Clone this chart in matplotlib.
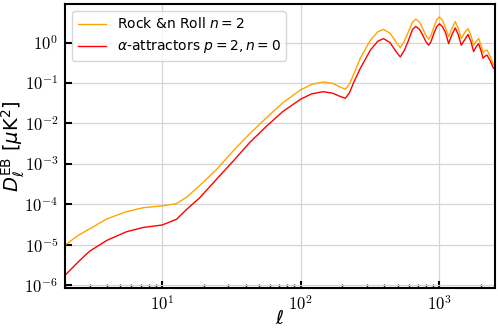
import numpy as np
import matplotlib
matplotlib.use("Agg")
from matplotlib import pyplot as plt
from matplotlib import ticker

# multipole values
ell = [2, 2.5, 3, 4, 5.5, 7.3, 10, 12.7, 15, 18.7, 24.7, 32.5, 42.9, 56.5,
       74.6, 100, 120, 145, 170, 191, 210, 225, 240, 269, 318, 360, 395,
       440, 490, 523, 560, 600, 640, 676, 720, 760, 800, 837, 870, 920,
       960, 1000, 1050, 1105, 1167, 1230, 1303, 1370, 1439, 1530, 1610,
       1690, 1767, 1840, 1920, 2000, 2065, 2140, 2206, 2330, 2457]

# Rock &n Roll n=2
D_rock = [1.0e-5, 1.75e-5, 2.5e-5, 4.4e-5, 6.6e-5, 8.3e-5, 9.2e-5, 1.05e-4,
          1.5e-4, 2.95e-4, 7.3e-4, 2.1e-3, 5.6e-3, 1.38e-2, 3.3e-2, 6.8e-2,
          9.2e-2, 0.106, 0.098, 0.080, 0.070, 0.095, 0.16, 0.41, 1.14, 1.85,
          2.1, 1.7, 1.0, 0.74, 1.1, 1.9, 3.2, 3.8, 3.2, 2.2, 1.5, 1.2, 1.5,
          2.6, 3.7, 4.3, 3.6, 2.4, 1.4, 2.2, 3.3, 2.2, 1.25, 1.8, 2.2,
          1.5, 0.86, 1.05, 1.26, 0.85, 0.57, 0.63, 0.65, 0.45, 0.28]

# alpha-attractors p=2, n=0
D_alpha = [1.8e-6, 3.9e-6, 7.0e-6, 1.3e-5, 2.1e-5, 2.7e-5, 3.1e-5, 4.3e-5,
           7.5e-5, 1.47e-4, 4.2e-4, 1.17e-3, 3.4e-3, 8.5e-3, 2.0e-2, 4.0e-2,
           5.4e-2, 0.061, 0.056, 0.047, 0.042, 0.058, 0.10, 0.23, 0.65, 1.08,
           1.25, 1.0, 0.58, 0.44, 0.65, 1.15, 2.1, 2.5, 2.1, 1.5, 1.05, 0.86,
           1.05, 1.8, 2.5, 2.9, 2.5, 1.8, 0.94, 1.55, 2.3, 1.55, 0.86, 1.2,
           1.58, 1.05, 0.6, 0.78, 0.94, 0.62, 0.41, 0.46, 0.49, 0.35, 0.23]

xticks = [10, 100, 1000]
yticks = [1e-6, 1e-5, 1e-4, 1e-3, 1e-2, 1e-1, 1e0]

plt.rcParams['mathtext.fontset'] = 'cm'


def pow10(v, pos):
    return r'$10^{%d}$' % int(round(np.log10(v)))


fig = plt.figure(figsize=(4.98, 3.31), dpi=100)
ax = fig.add_axes([0.131, 0.130, 0.862, 0.858])

ax.loglog(ell, D_rock, color='orange', lw=1.0, label=r'Rock &n Roll $n=2$')
ax.loglog(ell, D_alpha, color='red', lw=1.0,
          label=r'$\alpha$-attractors $p=2, n=0$')

ax.set_xlim(2, 2500)
ax.xaxis.set_major_locator(ticker.FixedLocator(xticks))
ax.yaxis.set_major_locator(ticker.FixedLocator(yticks))
ax.yaxis.set_minor_locator(ticker.NullLocator())
ax.xaxis.set_major_formatter(ticker.FuncFormatter(pow10))
ax.yaxis.set_major_formatter(ticker.FuncFormatter(pow10))

ax.grid(True, which='major', color='#d5d5d5', lw=0.9)
ax.set_axisbelow(True)
for s in ax.spines.values():
    s.set_linewidth(1.5)
    s.set_color('black')
ax.tick_params(which='major', direction='in', length=5, width=1.5,
               labelsize=12, pad=5, top=False, right=False)
ax.tick_params(which='minor', direction='in', length=3, width=1.0,
               top=False, right=False)

xl = ax.set_xlabel(r'$\ell$', fontsize=14)
yl = ax.set_ylabel(r'$D_\ell^{\mathrm{EB}}\ [\mu \mathrm{K}^2]$', fontsize=14)
xl.set_math_fontfamily('dejavusans')
yl.set_math_fontfamily('dejavusans')
ax.yaxis.set_label_coords(-0.09, 0.5)
ax.xaxis.set_label_coords(0.5, -0.075)

leg = ax.legend(loc='upper left', fontsize=10)
for t in leg.get_texts():
    t.set_math_fontfamily('dejavusans')

fig.savefig('out.png', dpi=100)
